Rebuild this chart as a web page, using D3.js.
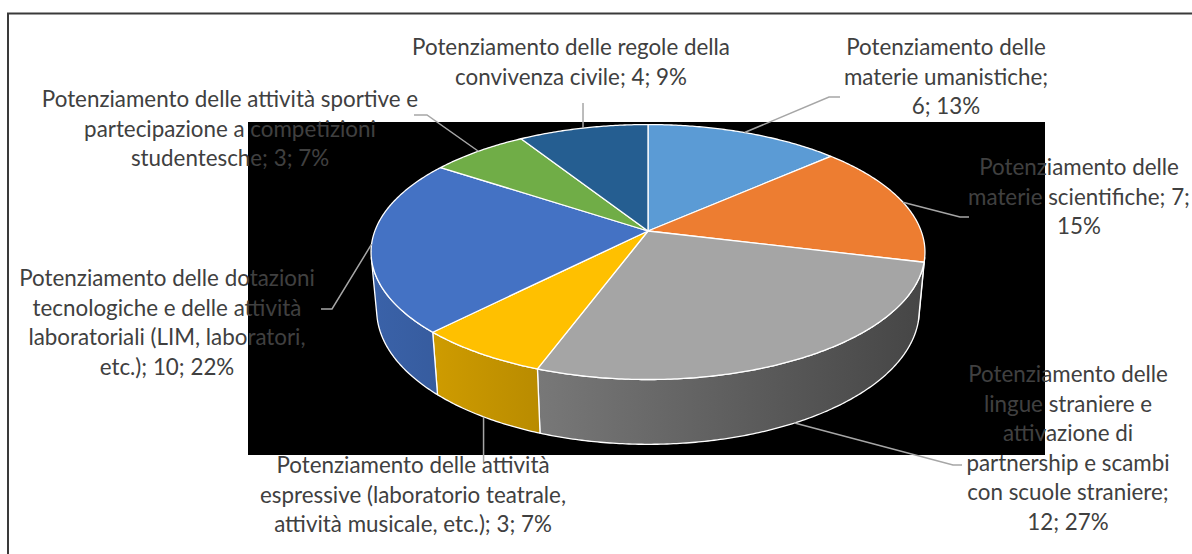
<!DOCTYPE html>
<html>
<head>
<meta charset="utf-8">
<script src="https://cdn.jsdelivr.net/npm/d3@7"></script>
<style>
  html, body { margin: 0; padding: 0; background: #fff; }
  svg { display: block; }
</style>
</head>
<body>
<svg id="chart" width="1192" height="554"></svg>
<script>
// data, in the order the slices run clockwise from 12 o'clock
const categories = [
  "Potenziamento delle materie umanistiche",
  "Potenziamento delle materie scientifiche",
  "Potenziamento delle lingue straniere e attivazione di partnership e scambi con scuole straniere",
  "Potenziamento delle attività espressive (laboratorio teatrale, attività musicale, etc.)",
  "Potenziamento delle dotazioni tecnologiche e delle attività laboratoriali (LIM, laboratori, etc.)",
  "Potenziamento delle attività sportive e partecipazione a competizioni studentesche",
  "Potenziamento delle regole della convivenza civile"
];
const values = [6, 7, 12, 3, 10, 3, 4];
const percents = ["13%", "15%", "27%", "7%", "22%", "7%", "9%"];
const colors = ["#5B9BD5", "#ED7D31", "#A5A5A5", "#FFC000", "#4472C4", "#70AD47", "#255E91"];

// how the data labels wrap in the picture
const labelLines = [
  ["Potenziamento delle", "materie umanistiche;", "6; 13%"],
  ["Potenziamento delle", "materie scientifiche; 7;", "15%"],
  ["Potenziamento delle", "lingue straniere e", "attivazione di", "partnership e scambi", "con scuole straniere;", "12; 27%"],
  ["Potenziamento delle attività", "espressive (laboratorio teatrale,", "attività musicale, etc.); 3; 7%"],
  ["Potenziamento delle dotazioni", "tecnologiche e delle attività", "laboratoriali (LIM, laboratori,", "etc.); 10; 22%"],
  ["Potenziamento delle attività sportive e", "partecipazione a competizioni", "studentesche; 3; 7%"],
  ["Potenziamento delle regole della", "convivenza civile; 4; 9%"]
];

// label placement (center x, first baseline) and the elbow of each leader line
const labelPos = [
  {x: 946, y: 55, elbow: [[840, 97], [829, 97]]},
  {x: 1079, y: 175, elbow: [[969, 217], [960, 217]]},
  {x: 1068, y: 382, elbow: [[962, 465], [953, 465]]},
  {x: 413, y: 473, elbow: null, down: 462},
  {x: 167, y: 286, elbow: [[321, 309], [332, 309]]},
  {x: 230, y: 107, elbow: [[414, 115], [427, 115]]},
  {x: 571, y: 55, elbow: null, up: 103}
];

const width = 1192, height = 554;
const svg = d3.select("#chart");

// frame and the black plot area
svg.append("rect")
  .attr("x", 8).attr("y", 13.5)
  .attr("width", 1300).attr("height", 700)
  .attr("fill", "#fff").attr("stroke", "#3a3a3a").attr("stroke-width", 2);
svg.append("rect")
  .attr("x", 248).attr("y", 122)
  .attr("width", 797).attr("height", 333)
  .attr("fill", "#000");

// 3d pie projection
const cx = 648, cy = 231;
const alpha = 27 * Math.PI / 180;
const sinA = Math.sin(alpha), cosA = Math.cos(alpha);
const D = 5.4, F = 1475, thick = 0.24;

function proj(theta, Y, r = 1) {
  const X = r * Math.sin(theta), Z = -r * Math.cos(theta);
  const yc = Z * sinA - Y * cosA;
  const zc = D - Z * cosA - Y * sinA;
  return [cx + F * X / zc, cy + F * yc / zc];
}

function arcPts(a0, a1, Y) {
  const n = Math.max(2, Math.ceil((a1 - a0) / 0.01));
  return d3.range(n + 1).map(i => proj(a0 + (a1 - a0) * i / n, Y));
}

const pie = d3.pie().sort(null).value(d => d).startAngle(0).endAngle(2 * Math.PI);
const arcs = pie(values);
const line = d3.line();

// silhouette where the rim turns away from the viewer
const sil = Math.acos(-1 / (D * cosA));
const sil1 = sil, sil2 = 2 * Math.PI - sil;

const defs = svg.append("defs");
function shade(c, k) {
  const r = d3.rgb(c);
  return d3.rgb(r.r * k, r.g * k, r.b * k).formatHex();
}
colors.forEach((c, i) => {
  const g = defs.append("linearGradient")
    .attr("id", "side" + i)
    .attr("gradientUnits", "userSpaceOnUse")
    .attr("x1", 370).attr("x2", 926).attr("y1", 0).attr("y2", 0);
  g.append("stop").attr("offset", 0).attr("stop-color", shade(c, 0.86));
  g.append("stop").attr("offset", 1).attr("stop-color", shade(c, 0.42));
});

// side walls
const sides = svg.append("g");
arcs.forEach((a, i) => {
  const s0 = Math.max(a.startAngle, sil1), s1 = Math.min(a.endAngle, sil2);
  if (s1 <= s0) return;
  const pts = arcPts(s0, s1, 0).concat(arcPts(s0, s1, -thick).reverse());
  sides.append("path")
    .attr("d", line(pts) + "Z")
    .attr("fill", `url(#side${i})`)
    .attr("stroke", "#fff")
    .attr("stroke-width", 1.3)
    .attr("stroke-linejoin", "round");
});

// top faces
const tops = svg.append("g");
arcs.forEach((a, i) => {
  const pts = [proj(0, 0, 0)].concat(arcPts(a.startAngle, a.endAngle, 0));
  tops.append("path")
    .attr("d", line(pts) + "Z")
    .attr("fill", colors[i])
    .attr("stroke", "#fff")
    .attr("stroke-width", 1.3)
    .attr("stroke-linejoin", "round");
});

// leader lines
const leaders = svg.append("g")
  .attr("fill", "none")
  .attr("stroke", "#A6A6A6")
  .attr("stroke-width", 1.5);
arcs.forEach((a, i) => {
  const mid = (a.startAngle + a.endAngle) / 2;
  const front = mid > sil1 && mid < sil2 && Math.cos(mid) < -0.5;
  const p = proj(mid, front ? -thick : 0);
  const lp = labelPos[i];
  let pts;
  if (lp.elbow) pts = [lp.elbow[0], lp.elbow[1], p];
  else if (lp.down) pts = [p, [p[0], lp.down]];
  else pts = [p, [p[0], lp.up]];
  leaders.append("path").attr("d", line(pts));
});

// data labels
const labels = svg.append("g")
  .attr("font-family", "Lato, 'Open Sans', sans-serif")
  .attr("fill", "#404040")
  .attr("text-anchor", "middle");

// match the font size to the width of the top label's first line
const probe = labels.append("text").attr("font-size", 20).text(labelLines[6][0]);
const fs = 20 * 318 / probe.node().getComputedTextLength();
probe.remove();
labels.attr("font-size", fs);

labelLines.forEach((ls, i) => {
  const t = labels.append("text")
    .attr("x", labelPos[i].x)
    .attr("y", labelPos[i].y);
  ls.forEach((s, j) => {
    t.append("tspan")
      .attr("x", labelPos[i].x)
      .attr("dy", j === 0 ? 0 : 29.5)
      .text(s);
  });
});
</script>
</body>
</html>
